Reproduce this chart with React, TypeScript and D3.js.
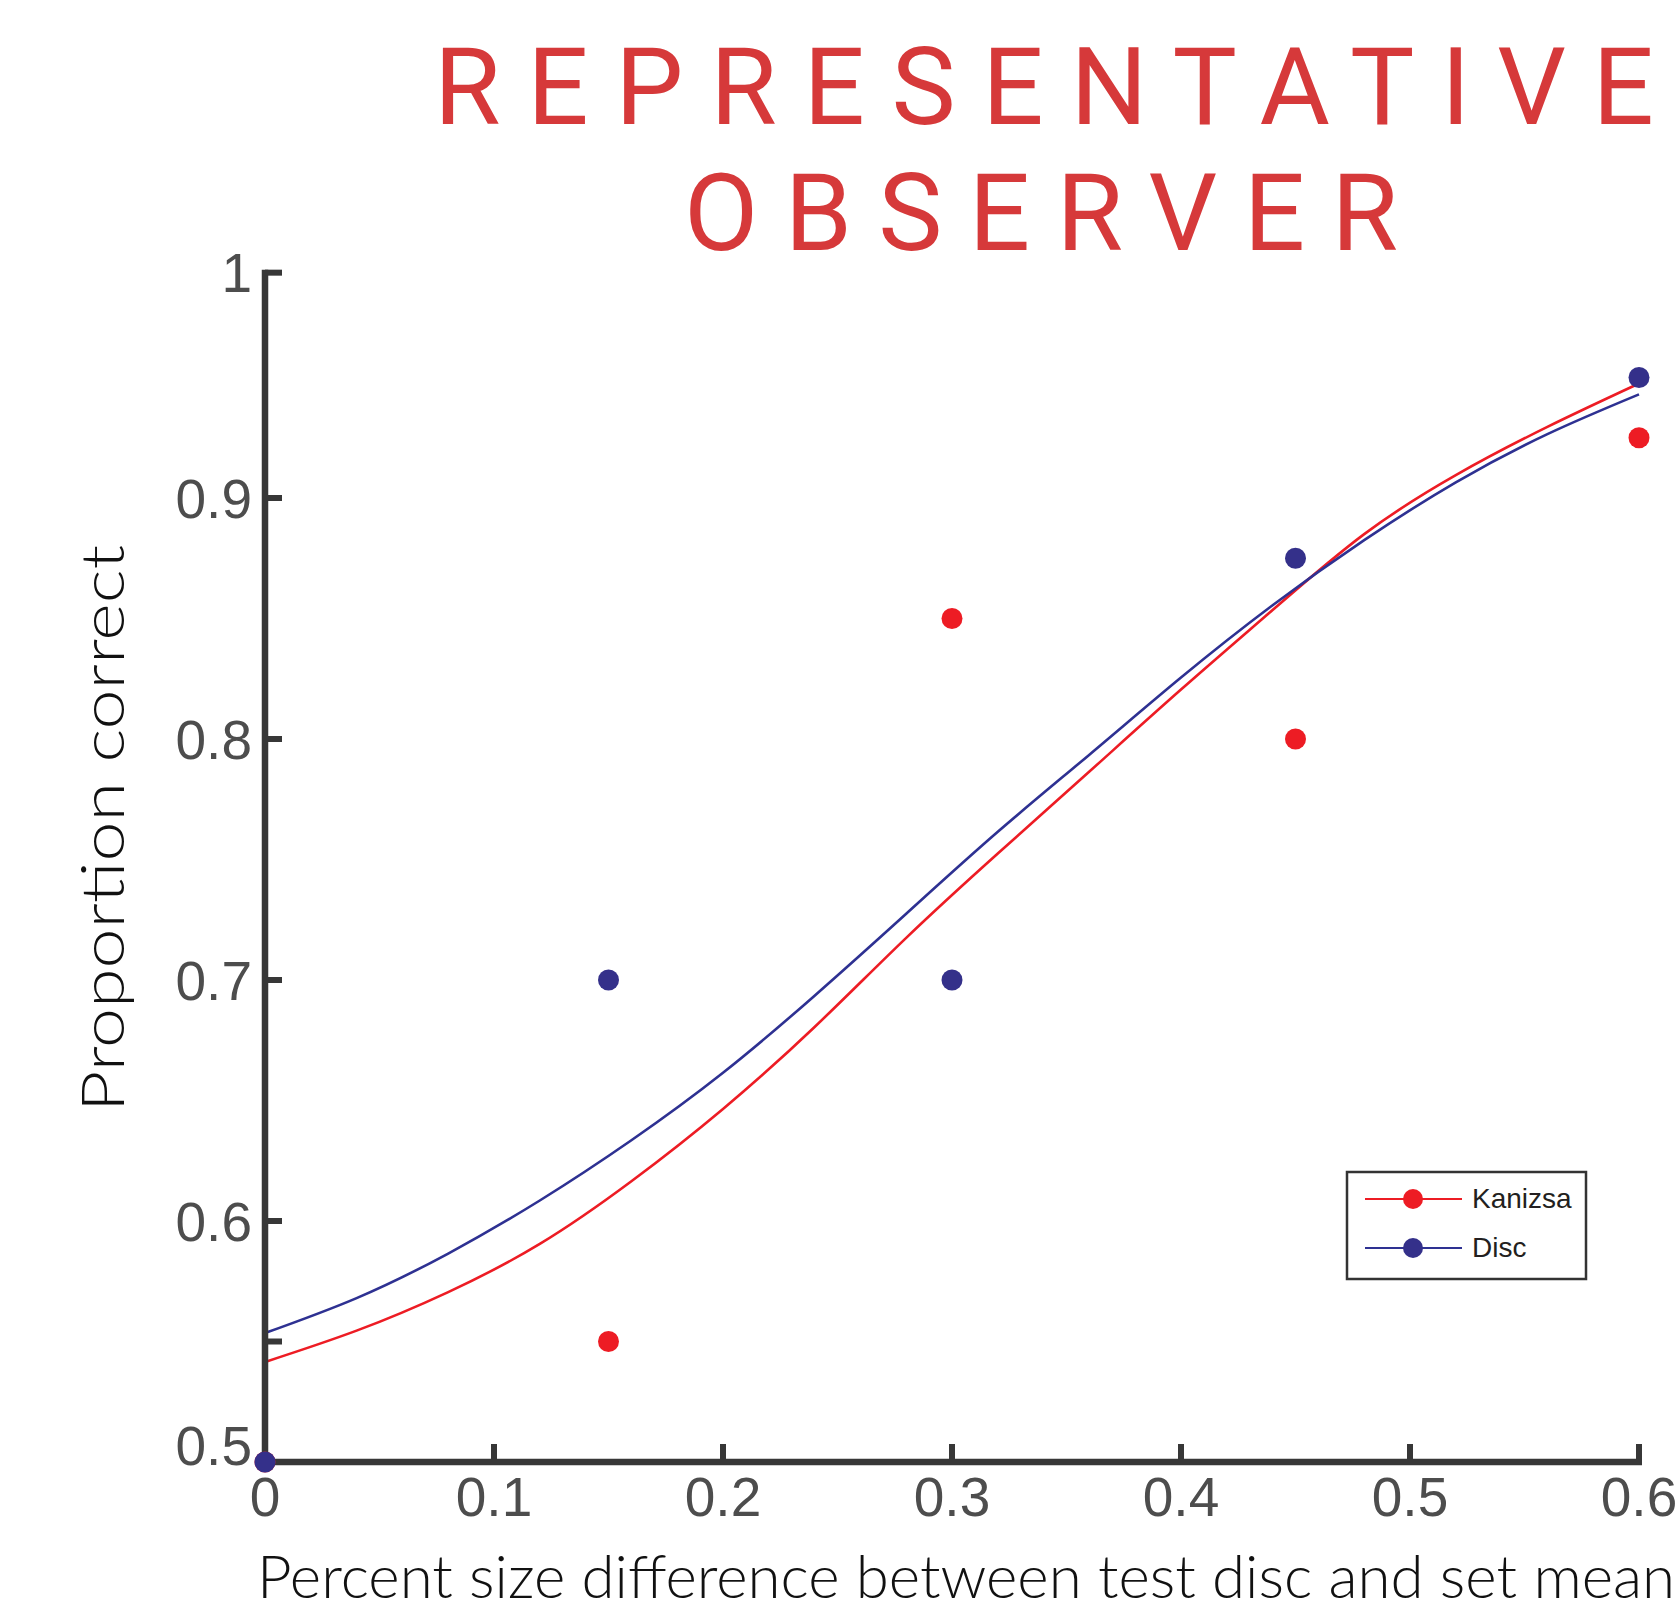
import React from "react";
import * as d3 from "d3";

const W = 1677, H = 1613;

// observed proportions at each size difference
const levels = [0, 0.15, 0.3, 0.45, 0.6];
const kanizsa = [0.5, 0.55, 0.85, 0.8, 0.925];
const disc = [0.5, 0.7, 0.7, 0.875, 0.95];

// fitted psychometric curves
const fitX = [0, 0.04, 0.08, 0.12, 0.16, 0.2, 0.24, 0.28, 0.32, 0.36, 0.4, 0.44, 0.48, 0.52, 0.56, 0.6];
const fitKanizsa = [0.5415, 0.5545, 0.5705, 0.5905, 0.6165, 0.6465, 0.6805, 0.7175, 0.7525, 0.7865, 0.8205, 0.8535, 0.885, 0.9095, 0.9295, 0.9475];
const fitDisc = [0.5535, 0.568, 0.5865, 0.6085, 0.6335, 0.6615, 0.6935, 0.7275, 0.7615, 0.7935, 0.8255, 0.8555, 0.8825, 0.9065, 0.9265, 0.943];

const xTicks = [0, 0.1, 0.2, 0.3, 0.4, 0.5, 0.6];
const yTicks = [0.5, 0.55, 0.6, 0.7, 0.8, 0.9];
const yTop = 0.9935; // axis stops here, labelled "1"

const titleLines = ["REPRESENTATIVE", "OBSERVER"];
const seriesNames = ["Kanizsa", "Disc"];
const colors = ["#ED1C24", "#2E3192"];
const markerColors = ["#ED1C24", "#34308A"];

export default class App extends React.Component {
  ref = React.createRef<HTMLDivElement>();

  componentDidMount() {
    this.draw();
  }

  draw() {
    d3.select(this.ref.current).selectAll("*").remove();
    const svg = d3.select(this.ref.current)
      .append("svg")
      .attr("width", W)
      .attr("height", H)
      .style("position", "absolute")
      .style("left", "0px")
      .style("top", "0px")
      .style("background", "#fff");

    const x = d3.scaleLinear().domain([0, 0.6]).range([265, 1639]);
    const y = d3.scaleLinear().domain([0.5, 1]).range([1462, 257]);
    const axisCol = "#373737";

    // title
    const tl = [[434, 1220, 124], [684, 714, 250]];
    svg.selectAll(".title")
      .data(titleLines)
      .join("text")
      .attr("x", (d, i) => tl[i][0])
      .attr("y", (d, i) => tl[i][2])
      .attr("textLength", (d, i) => tl[i][1])
      .attr("lengthAdjust", "spacing")
      .style("font", "400 108px 'Liberation Sans Narrow', Roboto, sans-serif")
      .style("fill", "#D6393A")
      .text(d => d);

    // fitted curves
    const fits = [fitKanizsa, fitDisc];
    const line = d3.line<number>()
      .x((d, i) => x(fitX[i]))
      .y(d => y(d))
      .curve(d3.curveNatural);
    fits.forEach((f, k) => {
      svg.append("path")
        .datum(f)
        .attr("fill", "none")
        .attr("stroke", colors[k])
        .attr("stroke-width", 2.6)
        .attr("d", line);
    });

    // x axis
    const gx = svg.append("g").attr("transform", "translate(0," + y(0.5) + ")");
    gx.append("line")
      .attr("x1", x(0) - 3).attr("x2", x(0.6) + 3)
      .attr("stroke", axisCol).attr("stroke-width", 6.5);
    gx.selectAll(".xt")
      .data(xTicks)
      .join("line")
      .attr("x1", d => x(d)).attr("x2", d => x(d))
      .attr("y1", 0).attr("y2", -18)
      .attr("stroke", axisCol).attr("stroke-width", 6);
    gx.selectAll(".xl")
      .data(xTicks)
      .join("text")
      .attr("x", d => x(d))
      .attr("y", 54)
      .attr("text-anchor", "middle")
      .style("font", "55px 'Liberation Sans', Arial, sans-serif")
      .style("fill", "#4D4D4D")
      .text(d => d3.format("~g")(d));

    // y axis
    const gy = svg.append("g").attr("transform", "translate(" + x(0) + ",0)");
    gy.append("line")
      .attr("y1", y(yTop) - 3).attr("y2", y(0.5) + 3)
      .attr("stroke", axisCol).attr("stroke-width", 6.5);
    const yAll = yTicks.concat([yTop]);
    gy.selectAll(".yt")
      .data(yAll)
      .join("line")
      .attr("y1", d => y(d)).attr("y2", d => y(d))
      .attr("x1", 0).attr("x2", 17)
      .attr("stroke", axisCol).attr("stroke-width", 6);
    gy.selectAll(".yl")
      .data(yAll.filter(d => d !== 0.55))
      .join("text")
      .attr("x", -13)
      .attr("y", d => y(d) + (d === 0.5 ? -17 : 0))
      .attr("dy", "0.36em")
      .attr("text-anchor", "end")
      .style("font", "55px 'Liberation Sans', Arial, sans-serif")
      .style("fill", "#4D4D4D")
      .text(d => d === yTop ? "1" : d3.format("~g")(d));

    // data points
    [kanizsa, disc].forEach((s, k) => {
      svg.append("g")
        .selectAll("circle")
        .data(s)
        .join("circle")
        .attr("cx", (d, i) => x(levels[i]))
        .attr("cy", d => y(d))
        .attr("r", 10.5)
        .attr("fill", markerColors[k]);
    });

    // axis titles
    svg.append("text")
      .attr("x", 257)
      .attr("y", 1598)
      .attr("textLength", 1418)
      .attr("lengthAdjust", "spacingAndGlyphs")
      .style("font", "300 60px Lato, 'Noto Sans', sans-serif")
      .style("fill", "#111")
      .text("Percent size difference between test disc and set mean");

    svg.append("text")
      .attr("transform", "translate(124,1112)rotate(-90)")
      .attr("textLength", 567)
      .attr("lengthAdjust", "spacingAndGlyphs")
      .style("font", "300 60px Lato, 'Noto Sans', sans-serif")
      .style("fill", "#111")
      .text("Proportion correct");

    // legend
    const lg = svg.append("g");
    lg.append("rect")
      .attr("x", 1347).attr("y", 1172)
      .attr("width", 239).attr("height", 107)
      .attr("fill", "#fff")
      .attr("stroke", "#333").attr("stroke-width", 2.5);
    seriesNames.forEach((name, k) => {
      const ly = 1199 + k * 49;
      lg.append("line")
        .attr("x1", 1365).attr("x2", 1462)
        .attr("y1", ly).attr("y2", ly)
        .attr("stroke", colors[k]).attr("stroke-width", 2.2);
      lg.append("circle")
        .attr("cx", 1413).attr("cy", ly).attr("r", 10)
        .attr("fill", markerColors[k]);
      lg.append("text")
        .attr("x", 1472).attr("y", ly + 9)
        .style("font", "28px 'Liberation Sans', Arial, sans-serif")
        .style("fill", "#231F20")
        .text(name);
    });
  }

  render() {
    return <div ref={this.ref}></div>;
  }
}
